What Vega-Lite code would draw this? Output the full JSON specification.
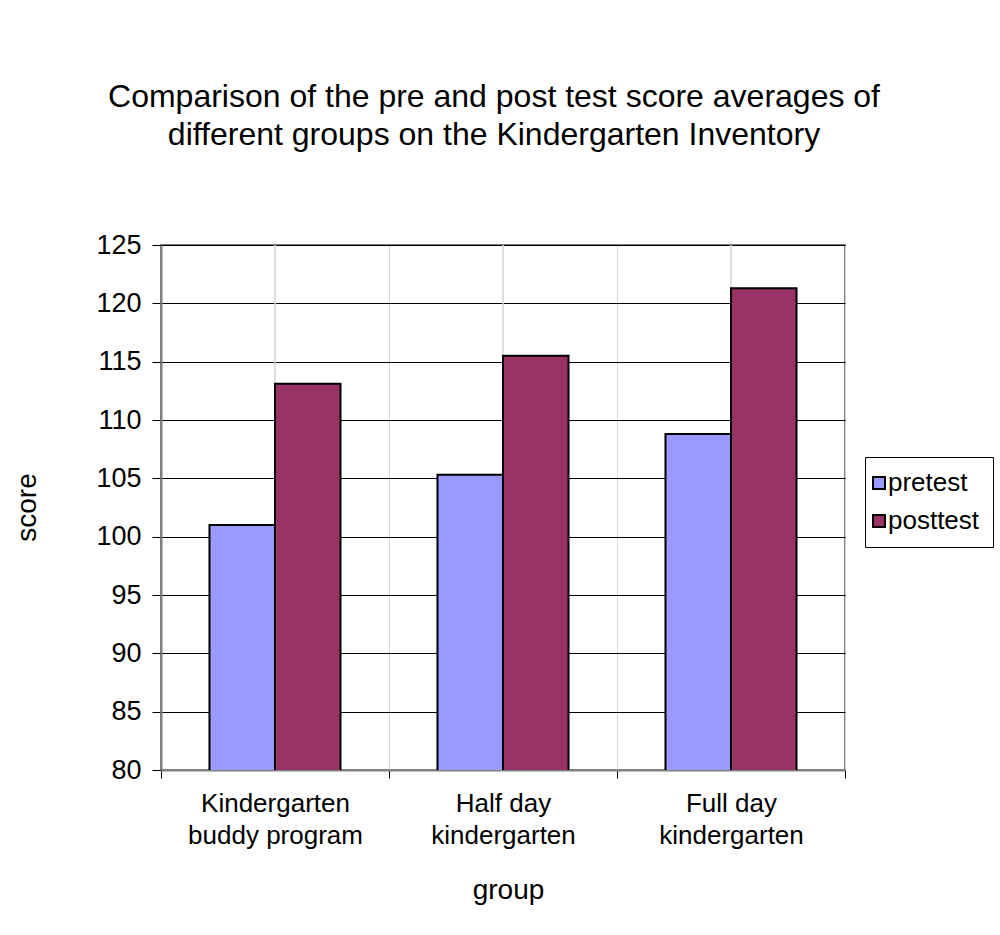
{
  "$schema": "https://vega.github.io/schema/vega-lite/v6.json",
  "width": 684,
  "height": 525,
  "autosize": {"type": "none"},
  "padding": {"left": 161, "top": 245, "right": 155, "bottom": 165},
  "background": "white",
  "config": {
    "font": "Liberation Sans",
    "view": {"stroke": "#808080", "strokeWidth": 2},
    "axis": {"labelColor": "black", "titleColor": "black", "titleFontWeight": "normal", "labelFont": "Liberation Sans", "titleFont": "Liberation Sans"},
    "legend": {"labelFont": "Liberation Sans"}
  },
  "title": {
    "text": ["Comparison of the pre and post test score averages of", "different groups on the Kindergarten Inventory"],
    "fontSize": 32,
    "fontWeight": "normal",
    "color": "black",
    "lineHeight": 38,
    "anchor": "middle",
    "dx": -9,
    "offset": 79
  },
  "data": {
    "values": [
      {"group": "Kindergarten buddy program", "test": "pretest", "score": 101.0},
      {"group": "Kindergarten buddy program", "test": "posttest", "score": 113.1},
      {"group": "Half day kindergarten", "test": "pretest", "score": 105.3},
      {"group": "Half day kindergarten", "test": "posttest", "score": 115.5},
      {"group": "Full day kindergarten", "test": "pretest", "score": 108.8},
      {"group": "Full day kindergarten", "test": "posttest", "score": 121.3}
    ]
  },
  "encoding": {
    "x": {
      "field": "group",
      "type": "nominal",
      "sort": null,
      "scale": {"paddingInner": 0, "paddingOuter": 0},
      "axis": {
        "title": "group",
        "titleFontSize": 28,
        "titleX": 347,
        "titleY": 120,
        "titleBaseline": "middle",
        "labelAngle": 0,
        "labelFontSize": 26,
        "labelLineHeight": 32,
        "labelPadding": 12,
        "labelLimit": 300,
        "labelExpr": "datum.label == 'Kindergarten buddy program' ? ['Kindergarten', 'buddy program'] : datum.label == 'Half day kindergarten' ? ['Half day', 'kindergarten'] : datum.label == 'Full day kindergarten' ? ['Full day', 'kindergarten'] : ''",
        "tickBand": "extent",
        "tickSize": 8,
        "tickColor": "black",
        "domainColor": "#808080",
        "domainWidth": 2,
        "grid": true,
        "gridColor": "#d4d4d4",
        "gridWidth": 1
      }
    }
  },
  "layer": [
    {
      "mark": {"type": "rule", "color": "#d4d4d4", "strokeWidth": 1}
    },
    {
      "mark": {"type": "bar", "stroke": "black", "strokeWidth": 2, "clip": true},
      "encoding": {
        "xOffset": {
          "field": "test",
          "type": "nominal",
          "sort": ["pretest", "posttest"],
          "scale": {"paddingInner": 0, "paddingOuter": 0.74}
        },
        "y": {
          "field": "score",
          "type": "quantitative",
          "scale": {"domain": [80, 125], "zero": false, "nice": false},
          "axis": {
            "title": "score",
            "titleFontSize": 28,
            "titleAngle": -90,
            "titleX": -134,
            "titleY": 262,
            "titleAlign": "center",
            "titleBaseline": "middle",
            "values": [80, 85, 90, 95, 100, 105, 110, 115, 120, 125],
            "labelFontSize": 27,
            "labelPadding": 11,
            "tickSize": 9,
            "tickColor": "black",
            "domainColor": "#808080",
            "domainWidth": 2,
            "grid": true,
            "gridColor": "black",
            "gridWidth": 1
          }
        },
        "color": {
          "field": "test",
          "type": "nominal",
          "sort": ["pretest", "posttest"],
          "scale": {"domain": ["pretest", "posttest"], "range": ["#9999FF", "#993366"]},
          "legend": {
            "title": null,
            "orient": "none",
            "legendX": 704,
            "legendY": 212,
            "padding": 13,
            "strokeColor": "black",
            "fillColor": "white",
            "symbolType": "square",
            "symbolSize": 144,
            "symbolOffset": -12,
            "symbolStrokeColor": "black",
            "symbolStrokeWidth": 2,
            "symbolOpacity": 1,
            "labelFontSize": 26,
            "labelColor": "black",
            "labelLimit": 300,
            "labelOffset": -4,
            "rowPadding": 12
          }
        }
      }
    }
  ]
}
